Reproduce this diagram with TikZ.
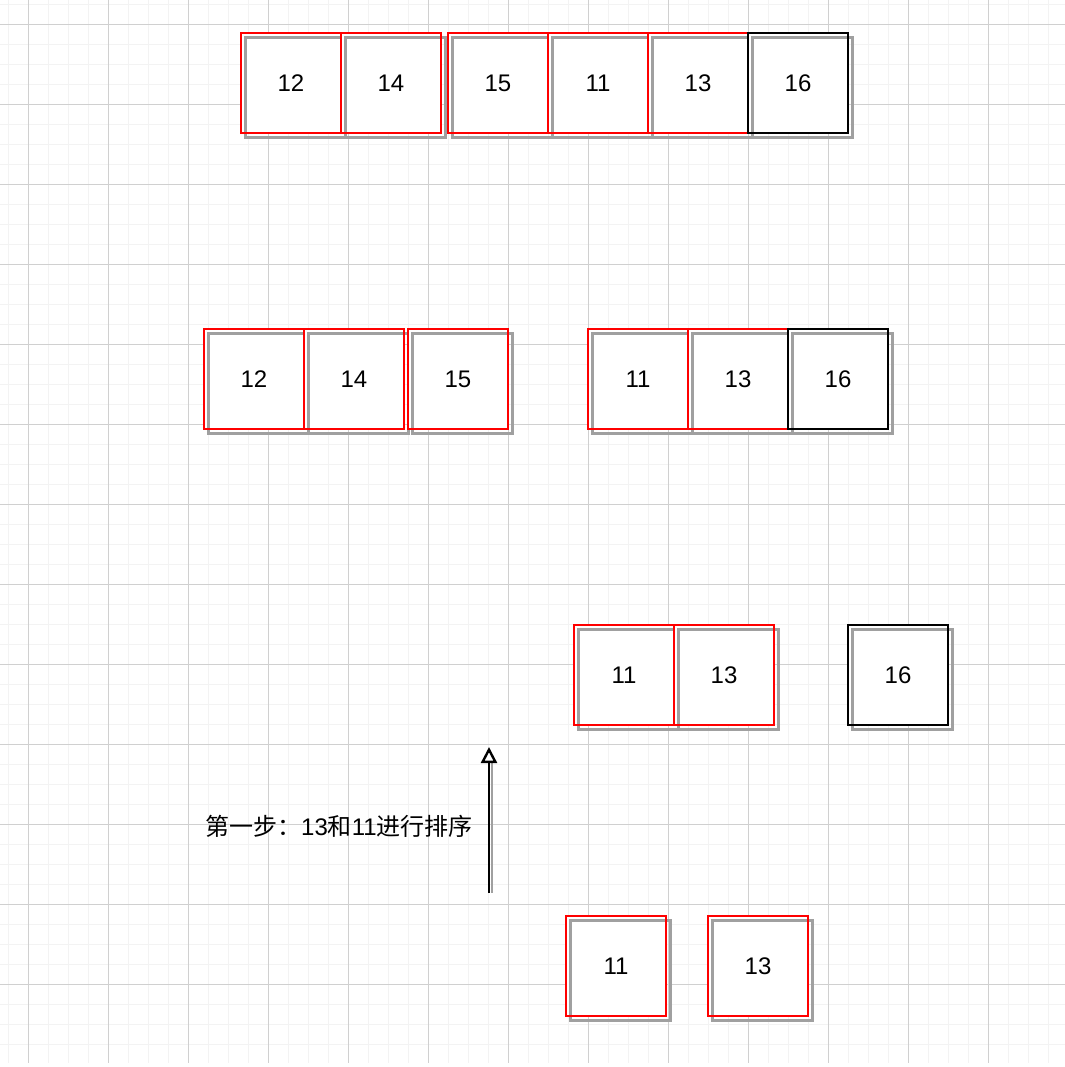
\documentclass[tikz,border=0pt]{standalone}
\usepackage{fontspec}
\setmainfont{Liberation Sans}
\newfontfamily\cjk{Noto Sans CJK SC}
\usetikzlibrary{arrows.meta, positioning}
\definecolor{gridminor}{HTML}{F3F3F3}
\definecolor{gridmajor}{HTML}{D0D0D0}
\definecolor{cellred}{HTML}{FF0000}
\definecolor{shadowgray}{HTML}{A0A0A0}

\tikzset{
	cell/.style={draw=cellred, line width=1.2pt, minimum width=50pt, minimum height=50pt, inner sep=0pt, outer sep=0pt,
		font=\fontsize{12}{14}\selectfont,
		preaction={fill=white},
		preaction={draw=shadowgray, line width=1.5pt, transform canvas={shift={(2pt,-2pt)}}}},
	pivot/.style={cell, draw=black},
}

\begin{document}
\begin{tikzpicture}[x=0.5pt, y=-0.5pt]
	\useasboundingbox (0,0) rectangle (1065,1067);
	% background grid
	\begin{scope}
		\clip (0,0) rectangle (1065,1063);
		\foreach \x in {8,28,...,1065} \draw[gridminor, line width=0.5pt] (\x,0) -- (\x,1063);
		\foreach \y in {4,24,...,1063} \draw[gridminor, line width=0.5pt] (0,\y) -- (1065,\y);
		\foreach \x in {28,108,...,1065} \draw[gridmajor, line width=0.5pt] (\x,0) -- (\x,1063);
		\foreach \y in {24,104,...,1063} \draw[gridmajor, line width=0.5pt] (0,\y) -- (1065,\y);
	\end{scope}

	% whole array
	\node[cell] (a12) at (291,83) {12};
	\node[cell, right=0pt of a12] (a14) {14};
	\node[cell, right=3.5pt of a14] (a15) {15};
	\node[cell, right=0pt of a15] (a11) {11};
	\node[cell, right=0pt of a11] (a13) {13};
	\node[pivot, right=0pt of a13] (a16) {16};

	% split in two
	\node[cell] (b12) at (254,379) {12};
	\node[cell, right=0pt of b12] (b14) {14};
	\node[cell, right=2pt of b14] (b15) {15};
	\node[cell] (b11) at (638,379) {11};
	\node[cell, right=0pt of b11] (b13) {13};
	\node[pivot, right=0pt of b13] (b16) {16};

	% right half
	\node[cell] (c11) at (624,675) {11};
	\node[cell, right=0pt of c11] (c13) {13};
	\node[pivot] (c16) at (898,675) {16};

	% first step
	\node[cell] (d11) at (616,966) {11};
	\node[cell, right=21pt of d11] (d13) {13};

	\coordinate (foot) at (489,893);
	\coordinate (tip) at (489,747);
	\draw[shadowgray, line width=1.2pt] ([xshift=1.5pt]foot) -- ([xshift=1.5pt, yshift=-8pt]tip);
	\draw[line width=1.2pt, -{Triangle[open, width=8pt, length=8pt, fill=white]}] (foot) -- (tip);

	\node[font=\fontsize{12}{14}\selectfont] (note) at (339,826) {{\cjk 第一步：}13{\cjk 和}11{\cjk 进行排序}};
\end{tikzpicture}
\end{document}
